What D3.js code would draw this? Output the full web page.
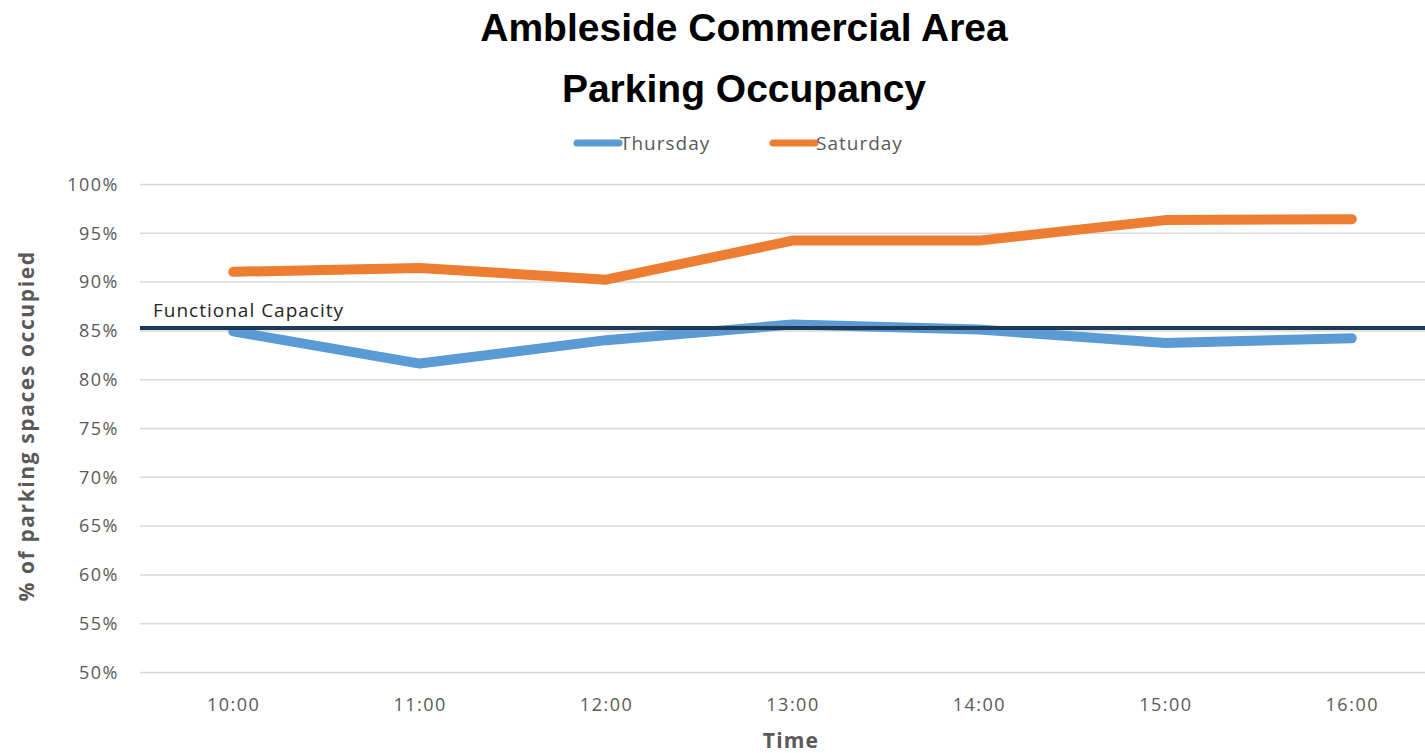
<!DOCTYPE html>
<html>
<head>
<meta charset="utf-8">
<script src="https://cdn.jsdelivr.net/npm/d3@7"></script>
<style>
  body { margin: 0; background: #fff; }
  svg { display: block; }
  .tick text { fill: #595959; font-family: "Open Sans", sans-serif; font-size: 18px; letter-spacing: 1.5px; }
</style>
</head>
<body>
<svg id="chart" width="1425" height="753"></svg>
<script>
const times = ['10:00', '11:00', '12:00', '13:00', '14:00', '15:00', '16:00'];
const thursday = [84.9, 81.6, 84.0, 85.6, 85.1, 83.7, 84.2];
const saturday = [91.0, 91.4, 90.2, 94.2, 94.2, 96.3, 96.4];
const capacity = 85.25;
const yTicks = [50, 55, 60, 65, 70, 75, 80, 85, 90, 95, 100];

const svg = d3.select('#chart');
const plotLeft = 140, plotRight = 1445, plotTop = 184, plotBottom = 672;

const x = d3.scalePoint().domain(times).range([plotLeft, plotRight]).padding(0.5);
const y = d3.scaleLinear().domain([50, 100]).range([plotBottom, plotTop]);

// title
svg.append('text')
  .attr('x', 744).attr('y', 41)
  .attr('text-anchor', 'middle')
  .style('font-family', '"Liberation Sans", Arial, sans-serif')
  .style('font-weight', 'bold').style('font-size', '39px')
  .text('Ambleside Commercial Area');
svg.append('text')
  .attr('x', 744).attr('y', 102)
  .attr('text-anchor', 'middle')
  .style('font-family', '"Liberation Sans", Arial, sans-serif')
  .style('font-weight', 'bold').style('font-size', '39px')
  .text('Parking Occupancy');

// gridlines + y labels
const yAxis = svg.append('g')
  .attr('transform', 'translate(' + plotLeft + ',0)')
  .call(d3.axisLeft(y).tickValues(yTicks).tickSize(-(1425 - plotLeft)).tickPadding(21)
    .tickFormat(d => d + '%'));
yAxis.select('.domain').remove();
yAxis.selectAll('.tick line').attr('stroke', '#d9d9d9').attr('stroke-width', 1.5);
yAxis.selectAll('.tick text').attr('dy', '0.35em');

// x labels
const xAxis = svg.append('g')
  .attr('transform', 'translate(0,' + plotBottom + ')')
  .call(d3.axisBottom(x).tickSize(0).tickPadding(26));
xAxis.select('.domain').remove();

// axis titles
svg.append('text')
  .attr('transform', 'translate(34,426) rotate(-90)')
  .attr('text-anchor', 'middle')
  .style('font-family', '"Open Sans", sans-serif')
  .style('font-weight', 'bold').style('font-size', '21px')
  .style('letter-spacing', '1.6px')
  .style('fill', '#595959')
  .text('% of  parking spaces occupied');
svg.append('text')
  .attr('x', 791).attr('y', 748)
  .attr('text-anchor', 'middle')
  .style('font-family', '"Open Sans", sans-serif')
  .style('font-weight', 'bold').style('font-size', '21px')
  .style('letter-spacing', '1.2px')
  .style('fill', '#595959')
  .text('Time');

// series lines
const line = d3.line()
  .x((d, i) => x(times[i]))
  .y(d => y(d));

svg.append('path')
  .datum(saturday)
  .attr('d', line)
  .attr('fill', 'none')
  .attr('stroke', '#ed7d31')
  .attr('stroke-width', 10)
  .attr('stroke-linecap', 'round')
  .attr('stroke-linejoin', 'round');

svg.append('path')
  .datum(thursday)
  .attr('d', line)
  .attr('fill', 'none')
  .attr('stroke', '#5b9bd5')
  .attr('stroke-width', 10)
  .attr('stroke-linecap', 'round')
  .attr('stroke-linejoin', 'round');

// functional capacity line
svg.append('line')
  .attr('x1', plotLeft).attr('x2', 1425)
  .attr('y1', y(capacity)).attr('y2', y(capacity))
  .attr('stroke', '#1f3a56')
  .attr('stroke-width', 4);
svg.append('text')
  .attr('x', 153).attr('y', y(capacity) - 11)
  .style('font-family', '"Open Sans", sans-serif')
  .style('font-size', '19px')
  .style('letter-spacing', '1px')
  .style('fill', '#262626')
  .text('Functional Capacity');

// legend
const legend = [
  { name: 'Thursday', color: '#5b9bd5', x: 577 },
  { name: 'Saturday', color: '#ed7d31', x: 773 }
];
const lg = svg.append('g');
legend.forEach(d => {
  lg.append('line')
    .attr('x1', d.x).attr('x2', d.x + 42)
    .attr('y1', 143).attr('y2', 143)
    .attr('stroke', d.color).attr('stroke-width', 7)
    .attr('stroke-linecap', 'round');
  lg.append('text')
    .attr('x', d.x + 43).attr('y', 150)
    .style('font-family', '"Open Sans", sans-serif')
    .style('font-size', '19px')
    .style('letter-spacing', '1px')
    .style('fill', '#595959')
    .text(d.name);
});
</script>
</body>
</html>
